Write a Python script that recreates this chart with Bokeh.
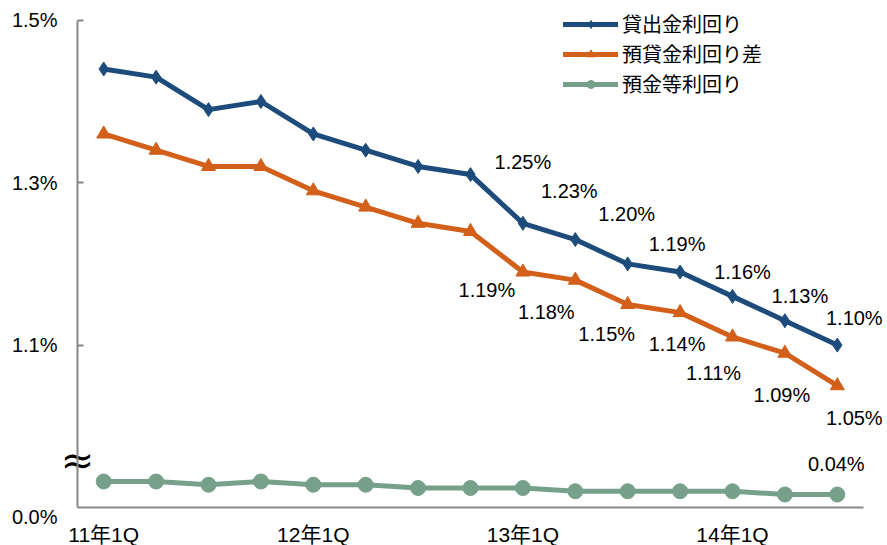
from bokeh.plotting import figure
from bokeh.models import Range1d, FixedTicker, Legend, LegendItem, ColumnDataSource
from bokeh.core.properties import value
from bokeh.embed import file_html
from bokeh.resources import INLINE

quarters = ["11年1Q", "11年2Q", "11年3Q", "11年4Q",
            "12年1Q", "12年2Q", "12年3Q", "12年4Q",
            "13年1Q", "13年2Q", "13年3Q", "13年4Q",
            "14年1Q", "14年2Q", "14年3Q"]
loan_yield = [1.44, 1.43, 1.39, 1.40, 1.36, 1.34, 1.32, 1.31, 1.25, 1.23, 1.20, 1.19, 1.16, 1.13, 1.10]
spread = [1.36, 1.34, 1.32, 1.32, 1.29, 1.27, 1.25, 1.24, 1.19, 1.18, 1.15, 1.14, 1.11, 1.09, 1.05]
deposit_yield = [0.08, 0.08, 0.07, 0.08, 0.07, 0.07, 0.06, 0.06, 0.06, 0.05, 0.05, 0.05, 0.05, 0.04, 0.04]
series_names = ["貸出金利回り", "預貸金利回り差", "預金等利回り"]
y_ticks = [1.1, 1.3, 1.5]
y_tick_labels = ["1.1%", "1.3%", "1.5%"]
y_axis_min, y_axis_max = 0.9, 1.5
dep_axis_min, dep_axis_max = 0.0, 1.5
zero_label = "0.0%"
x_tick_quarters = ["11年1Q", "12年1Q", "13年1Q", "14年1Q"]

# ---- layout / style (pixels) ----
W, H = 887, 545
PL, PR, PT, PB = 77.0, 863.0, 19.8, 507.0     # plot box inside the canvas
first_labeled = 8
blue_dx = [0, -6, -1, -3, 10, 15, 17]
blue_dy = [-61, -49, -50, -28, -24, -25, -27]
orange_dx = [-36, -29, -21, -3, -19, -3, 17]
orange_dy = [18, 32, 29, 31, 36, 42, 32]
green_dx, green_dy = [-1], [-31]

BLUE = "#1D4C7C"
ORANGE = "#D2601A"
GREEN = "#76A08A"
AXIS = "#878787"
NUM_FONT = "Liberation Sans, Noto Sans CJK JP"
CJK_FONT = "Noto Sans CJK JP"
FS = "20px"

n = len(quarters)
x = list(range(n))
xs = (PR - PL) / n
ys = (PB - PT) / (y_axis_max - y_axis_min)
gs = (PB - PT) / (dep_axis_max - dep_axis_min)

p = figure(width=W, height=H, output_backend="svg", toolbar_location=None,
           x_range=Range1d(-0.5 - PL / xs, n - 0.5 + (W - PR) / xs),
           y_range=Range1d(y_axis_min - (H - PB) / ys, y_axis_max + PT / ys),
           min_border=0, min_border_left=0, min_border_right=0,
           min_border_top=0, min_border_bottom=0)
p.extra_y_ranges = {"dep": Range1d(dep_axis_min - (H - PB) / gs, dep_axis_max + PT / gs)}
p.outline_line_color = None
p.xgrid.visible = False
p.ygrid.visible = False
p.background_fill_color = "white"
p.border_fill_color = "white"

# axes drawn at the plot box edges
p.xaxis.fixed_location = y_axis_min
p.xaxis.bounds = (-0.5, n - 0.5)
p.xaxis.ticker = FixedTicker(ticks=[quarters.index(q) for q in x_tick_quarters])
p.xaxis.major_label_overrides = {quarters.index(q): q for q in x_tick_quarters}
p.xaxis.major_tick_line_color = None
p.xaxis.major_tick_in = 0
p.xaxis.major_tick_out = 0
p.xaxis.minor_tick_line_color = None
p.xaxis.axis_line_color = AXIS
p.xaxis.axis_line_width = 2
p.xaxis.major_label_text_font = NUM_FONT
p.xaxis.major_label_text_font_size = "21px"
p.xaxis.major_label_text_color = "black"
p.xaxis.major_label_standoff = 15

p.yaxis.fixed_location = -0.5
p.yaxis.bounds = (y_axis_min, y_axis_max)
p.yaxis.ticker = FixedTicker(ticks=y_ticks)
p.yaxis.major_label_overrides = dict(zip(y_ticks, y_tick_labels))
p.yaxis.major_tick_in = 6
p.yaxis.major_tick_out = 0
p.yaxis.major_tick_line_color = AXIS
p.yaxis.major_tick_line_width = 2
p.yaxis.minor_tick_line_color = None
p.yaxis.axis_line_color = AXIS
p.yaxis.axis_line_width = 2
p.yaxis.major_label_text_font = NUM_FONT
p.yaxis.major_label_text_font_size = FS
p.yaxis.major_label_text_color = "black"
p.yaxis.major_label_standoff = 20

# series
l1 = p.line(x, loan_yield, line_color=BLUE, line_width=5, line_join="round", line_cap="round")
m1 = p.scatter(x, loan_yield, marker="diamond", size=14, fill_color=BLUE, line_color=BLUE)
l2 = p.line(x, spread, line_color=ORANGE, line_width=5, line_join="round", line_cap="round")
m2 = p.scatter(x, spread, marker="triangle", size=14, fill_color=ORANGE, line_color=ORANGE)
l3 = p.line(x, deposit_yield, line_color=GREEN, line_width=5, line_join="round", line_cap="round",
            y_range_name="dep")
m3 = p.scatter(x, deposit_yield, marker="circle", size=15, fill_color=GREEN, line_color=GREEN,
               y_range_name="dep")


def pct(v):
    return f"{v:.2f}%"


src_b = ColumnDataSource(dict(x=x[first_labeled:], y=loan_yield[first_labeled:],
                              t=[pct(v) for v in loan_yield[first_labeled:]],
                              dx=blue_dx, dy=blue_dy))
src_o = ColumnDataSource(dict(x=x[first_labeled:], y=spread[first_labeled:],
                              t=[pct(v) for v in spread[first_labeled:]],
                              dx=orange_dx, dy=orange_dy))
src_g = ColumnDataSource(dict(x=[x[-1]], y=[deposit_yield[-1]], t=[pct(deposit_yield[-1])],
                              dx=green_dx, dy=green_dy))
for src, rng in ((src_b, "default"), (src_o, "default"), (src_g, "dep")):
    p.text(x="x", y="y", text="t", x_offset="dx", y_offset="dy", source=src,
           text_align="center", text_baseline="middle", text_font=value(NUM_FONT),
           text_font_size=FS, text_color="black", y_range_name=rng)

# "0.0%" label at the broken axis bottom, and the break mark
p.text(x=[-0.5], y=[y_axis_min], text=[zero_label], x_offset=-20, y_offset=9,
       text_align="right", text_baseline="middle", text_font=value(NUM_FONT),
       text_font_size=FS, text_color="black")
p.text(x=[-0.5], y=[y_axis_min], text=["≈"], x_offset=0, y_offset=-48,
       text_align="center", text_baseline="middle", text_font=value("DejaVu Sans"),
       text_font_size="40px", text_color="black")

legend = Legend(items=[LegendItem(label=series_names[0], renderers=[l1, m1]),
                       LegendItem(label=series_names[1], renderers=[l2, m2]),
                       LegendItem(label=series_names[2], renderers=[l3, m3])],
                location=(563, 447), glyph_width=55, glyph_height=20, label_height=20,
                spacing=1, padding=0, margin=0, label_standoff=4,
                border_line_color=None, background_fill_alpha=0,
                label_text_font=CJK_FONT, label_text_font_size=FS,
                label_text_color="black")
p.add_layout(legend, "center")

open("out.html", "w").write(file_html(p, INLINE))
